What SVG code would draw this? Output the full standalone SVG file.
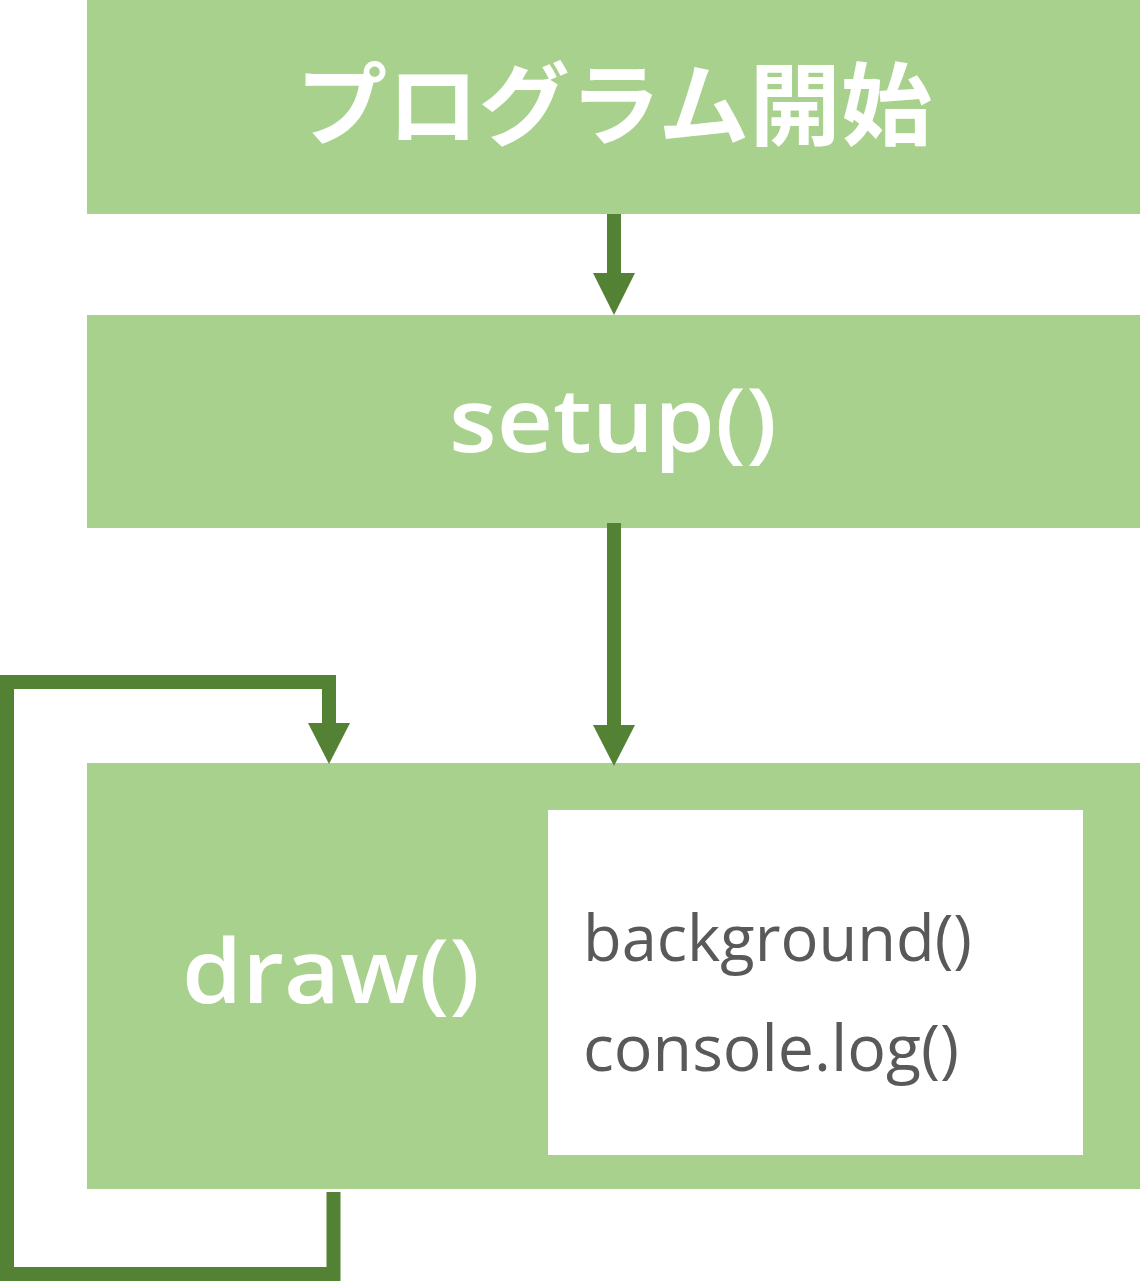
<svg xmlns="http://www.w3.org/2000/svg" width="1140" height="1282" viewBox="0 0 1140 1282">
<defs>
<style>
.box{fill:#A9D18E}
.inner{fill:#FFFFFF}
.lbl{fill:#FFFFFF;font-family:"Open Sans","Noto Sans",sans-serif;font-weight:600}
.jp{fill:#FFFFFF;font-family:"Noto Sans CJK JP","Noto Sans",sans-serif;font-weight:700}
.code{fill:#595959;font-family:"Open Sans","Noto Sans",sans-serif;font-weight:400}
.conn{fill:none;stroke:#548235;stroke-width:14}
.head{fill:#548235}
</style>
</defs>
<rect width="1140" height="1282" fill="#FFFFFF"/>
<g id="node-start">
<rect class="box" x="87" y="0" width="1053" height="214"/>
<text class="jp" x="614" y="138" font-size="90" text-anchor="middle" textLength="636" lengthAdjust="spacingAndGlyphs">プログラム開始</text>
</g>
<g id="node-setup">
<rect class="box" x="87" y="315" width="1053" height="213"/>
<text class="lbl" x="613" y="452" font-size="88" text-anchor="middle" textLength="328" lengthAdjust="spacingAndGlyphs">setup()</text>
</g>
<g id="node-draw">
<rect class="box" x="87" y="763" width="1053" height="426"/>
<text class="lbl" x="331" y="1003" font-size="88" text-anchor="middle" textLength="298" lengthAdjust="spacingAndGlyphs">draw()</text>
<rect class="inner" x="548" y="810" width="535" height="345"/>
<text class="code" x="583" y="961" font-size="64" textLength="389" lengthAdjust="spacingAndGlyphs">background()</text>
<text class="code" x="583" y="1071" font-size="64" textLength="376" lengthAdjust="spacingAndGlyphs">console.log()</text>
</g>
<g id="connectors">
<line class="conn" x1="614" y1="214" x2="614" y2="274"/>
<polygon class="head" points="593,273 635,273 614,315"/>
<line class="conn" x1="614" y1="523" x2="614" y2="726"/>
<polygon class="head" points="593,725 635,725 614,766"/>
<polyline class="conn" points="333.5,1192 333.5,1274 7,1274 7,682 329,682 329,724"/>
<polygon class="head" points="308,723 350,723 329,764"/>
</g>
</svg>
